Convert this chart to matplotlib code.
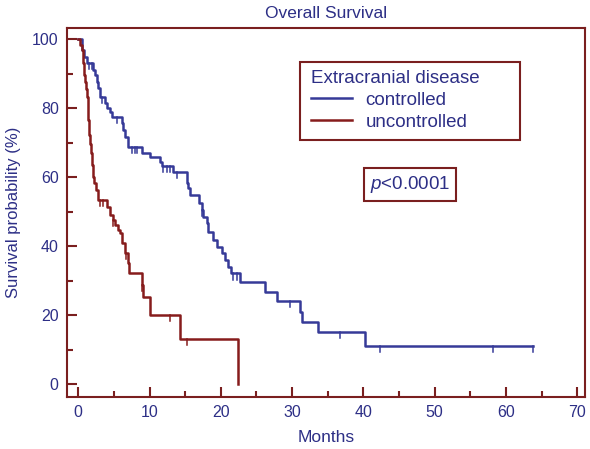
import numpy as np
import matplotlib
matplotlib.use("Agg")
from matplotlib import pyplot as plt
from matplotlib.patches import Rectangle

plt.rcParams['font.family'] = ['Liberation Sans', 'DejaVu Sans']
plt.rcParams['mathtext.fontset'] = 'custom'
plt.rcParams['mathtext.it'] = 'Liberation Sans:italic'
plt.rcParams['mathtext.rm'] = 'Liberation Sans'

# Colours
NAVY = '#2d2f86'
BLUE = '#363a98'
RED = '#861c1c'
FRAME = '#7a1f1f'

# Kaplan-Meier steps (months, survival % after the step)
ctrl_t = [0, 0.48, 0.80, 1.18, 2.10, 2.34, 2.58, 2.80, 3.04, 3.74, 3.98, 4.45, 4.68,
          6.09, 6.31, 6.55, 7.01, 8.89, 10.06, 11.46, 11.70, 13.30, 15.20, 15.43,
          15.67, 16.97, 17.30, 17.53, 18.00, 18.23, 18.93, 19.41, 20.11, 20.58,
          21.04, 21.37, 22.68, 26.19, 27.83, 31.10, 31.33, 33.66, 40.20, 63.80]
ctrl_s = [100, 97.0, 95.0, 93.1, 91.2, 89.7, 87.8, 85.9, 83.4, 81.5, 80.1, 79.1, 77.6,
          75.7, 73.8, 71.8, 68.9, 67.2, 65.9, 64.6, 63.3, 61.7, 58.3, 56.9,
          54.9, 52.5, 50.6, 48.6, 46.7, 44.3, 41.9, 39.9, 38.0, 36.1,
          34.1, 32.2, 29.8, 26.9, 24.3, 21.1, 18.2, 15.2, 11.2, 11.2]
ctrl_cens = [1.54, 1.88, 3.3, 5.4, 7.5, 7.95, 8.27, 11.9, 12.4, 12.86, 13.8, 17.4,
             21.74, 22.2, 29.7, 36.7, 42.3, 58.2, 63.8]

unc_t = [0, 0.25, 0.48, 0.60, 0.70, 0.80, 0.87, 0.95, 1.05, 1.18, 1.30, 1.40, 1.50,
         1.57, 1.65, 1.74, 1.88, 2.02, 2.20, 2.48, 2.80, 4.00, 4.45, 4.90, 5.15,
         5.57, 5.85, 6.09, 6.55, 7.00, 7.05, 8.90, 9.10, 10.05, 14.30, 22.40]
unc_s = [100, 98.5, 97.0, 95.0, 93.2, 91.4, 89.7, 87.6, 85.5, 83.3, 80.0, 76.7, 74.5,
         72.3, 69.7, 67.1, 63.6, 60.1, 58.4, 56.5, 53.5, 51.5, 49.1, 47.7, 46.2,
         44.8, 43.9, 41.0, 38.1, 35.2, 32.2, 28.8, 25.4, 20.1, 13.1, 0]
unc_cens = [3.0, 3.5, 4.9, 6.7, 9.0, 12.9, 15.3]

x_ticks = [0, 10, 20, 30, 40, 50, 60, 70]
y_ticks = [0, 20, 40, 60, 80, 100]


def surv_at(t, times, surv):
    i = np.searchsorted(times, t, side='right') - 1
    return np.asarray(surv)[i]


def main():
    fig = plt.figure(figsize=(5.9, 4.49), dpi=100)
    ax = fig.add_axes([0.1136, 0.1165, 0.878, 0.821])

    l1, = ax.step(ctrl_t, ctrl_s, where='post', color=BLUE, lw=1.8)
    l2, = ax.step(unc_t, unc_s, where='post', color=RED, lw=1.8)

    # censoring marks
    for cens, times, surv, col in [(ctrl_cens, ctrl_t, ctrl_s, BLUE),
                                   (unc_cens, unc_t, unc_s, RED)]:
        for c in cens:
            s = surv_at(c, times, surv)
            ax.plot([c, c], [s, s - 1.8], color=col, lw=1.1)

    ax.set_xlim(-1.58, 71.1)
    ax.set_ylim(-3.55, 103.3)
    ax.set_xticks(x_ticks)
    ax.set_yticks(y_ticks)
    ax.set_xticks(np.arange(5, 70, 10), minor=True)
    ax.set_yticks(np.arange(10, 100, 20), minor=True)
    ax.tick_params(which='both', direction='in', color=FRAME, width=1.5,
                   labelcolor=NAVY, labelsize=11.5, pad=6)
    ax.tick_params(which='major', length=7.5)
    ax.tick_params(which='minor', length=4)
    for sp in ax.spines.values():
        sp.set_color(FRAME)
        sp.set_linewidth(1.5)

    ax.set_title('Overall Survival', fontsize=12.5, color=NAVY, pad=7.5)
    ax.set_xlabel('Months', fontsize=12.5, color=NAVY, labelpad=7)
    ax.set_ylabel('Survival probability (%)', fontsize=12, color=NAVY, labelpad=8)

    # legend, with its box drawn separately
    ax.add_patch(Rectangle((0.45, 0.696), 0.4245, 0.2126, transform=ax.transAxes,
                           fc='white', ec=FRAME, lw=1.5, zorder=4))
    leg = ax.legend([l1, l2], ['controlled', 'uncontrolled'],
                    title='Extracranial disease', loc='upper left',
                    bbox_to_anchor=(0.455, 0.9086), borderaxespad=0,
                    alignment='left', frameon=False,
                    fontsize=13.5, title_fontsize=13.5, handlelength=2.2,
                    handletextpad=0.7, labelspacing=0.25, borderpad=0.45)
    leg.set_zorder(5)
    leg.get_title().set_color(NAVY)
    for txt in leg.get_texts():
        txt.set_color(NAVY)

    ax.text(0.662, 0.5755, '$p$<0.0001', transform=ax.transAxes,
            ha='center', va='center', fontsize=13.5, color=NAVY,
            bbox=dict(boxstyle='square,pad=0.3', fc='white', ec=FRAME, lw=1.5))

    fig.savefig('out.png', dpi=100)
    plt.close(fig)


if __name__ == "__main__":
    main()
